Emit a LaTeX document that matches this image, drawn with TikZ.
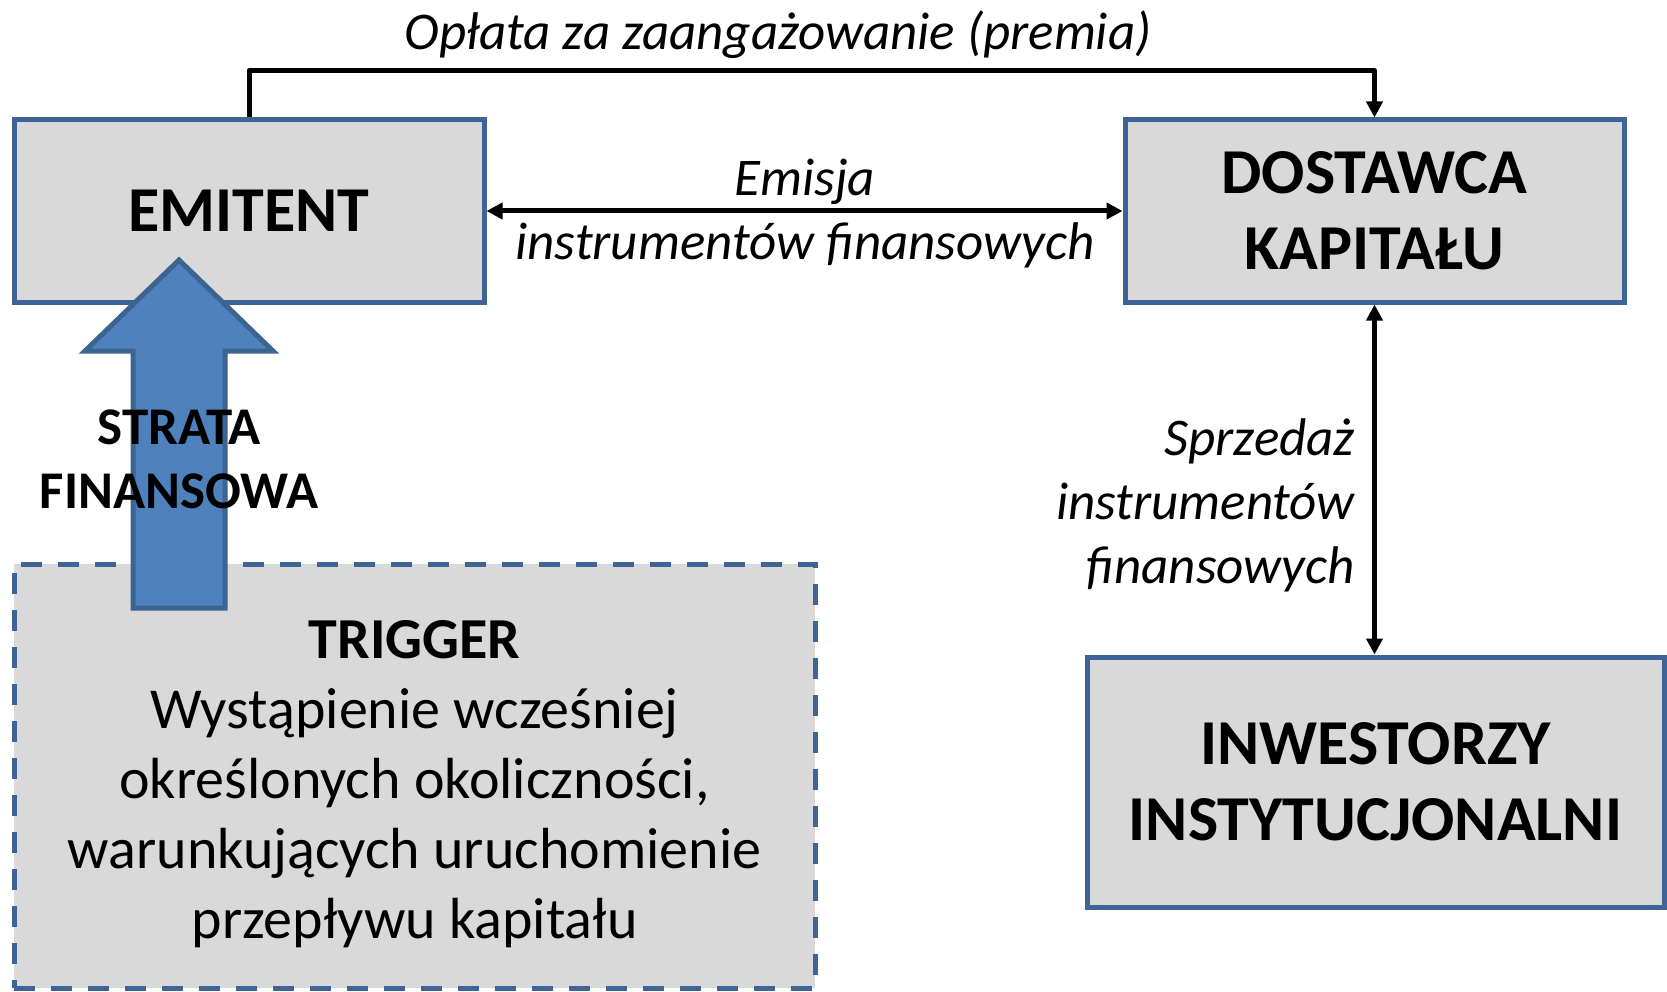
\documentclass[tikz,border=0pt]{standalone}
\usepackage{fontspec}
\setmainfont{Carlito}
\usetikzlibrary{arrows.meta}
\definecolor{boxfill}{HTML}{D9D9D9}
\definecolor{boxline}{HTML}{3E6396}
\definecolor{arrfill}{HTML}{4F81BD}
\definecolor{arrline}{HTML}{3C6491}
\tikzset{
  box/.style={draw=boxline, fill=boxfill, line width=5pt, rectangle, inner sep=0pt,
    align=center, font=\fontsize{64}{76}\selectfont\bfseries},
  dbox/.style={box, dash pattern=on 21pt off 16pt},
  conn/.style={line width=5pt, draw=black, line join=round},
  tip/.style={-{Triangle[length=16pt,width=16pt]}},
  dtip/.style={{Triangle[length=16pt,width=16pt]}-{Triangle[length=16pt,width=16pt]}},
  lbl/.style={font=\fontsize{53}{64}\selectfont\itshape, inner sep=0pt},
}
\begin{document}
\begin{tikzpicture}[x=1pt,y=-1pt]
\useasboundingbox (0,0) rectangle (1667,992);
\node[box, minimum width=470pt, minimum height=182pt] (emit) at (249,211) {EMITENT};
\node[box, minimum width=499pt, minimum height=182pt] (dost) at (1374.5,211) {DOSTAWCA\\KAPITAŁU};
\node[box, minimum width=577pt, minimum height=250pt] (inw) at (1375.5,782) {INWESTORZY\\INSTYTUCJONALNI};
\node[dbox, minimum width=801pt, minimum height=424pt] (trig) at (414.5,776) {};
\node[font=\fontsize{58}{70}\selectfont, align=center, inner sep=0pt] (trigtext) at (414.5,784)
  {\textbf{TRIGGER}\\Wystąpienie wcześniej\\określonych okoliczności,\\warunkujących uruchomienie\\przepływu kapitału};
% blue arrow
\draw[draw=arrline, fill=arrfill, line width=5pt, line join=miter]
  (133,608) -- (133,351) -- (85,351) -- (179,260) -- (273,351) -- (225,351) -- (225,608) -- cycle;
\node[font=\fontsize{53}{64}\selectfont\bfseries, align=center, inner sep=0pt] (strata) at (179,459) {STRATA\\FINANSOWA};
% connectors
\coordinate (topl) at ([yshift=47pt]emit.north);
\draw[conn, tip] (emit.north) -- (topl) -| (dost.north);
\draw[conn, dtip] (emit.east) -- (dost.west);
\draw[conn, dtip] (dost.south) -- (dost.south |- inw.north);
% labels
\node[lbl] (oplata) at (778,35) {Opłata za zaangażowanie (premia)};
\node[lbl, align=center] (emis) at (805,214) {Emisja\\instrumentów finansowych};
\node[lbl, align=right, anchor=east] (sprz) at (1355,505) {Sprzedaż\\instrumentów\\finansowych};
\end{tikzpicture}
\end{document}
